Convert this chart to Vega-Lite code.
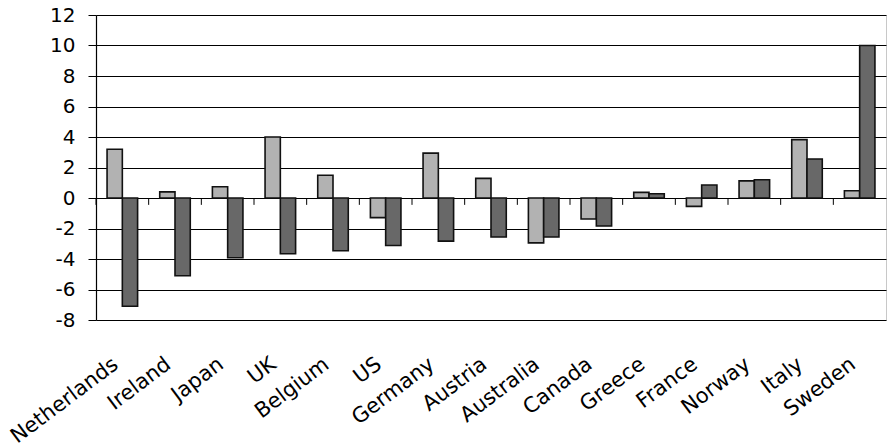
{
  "$schema": "https://vega.github.io/schema/vega-lite/v6.json",
  "width": 790,
  "height": 305,
  "autosize": "none",
  "padding": {"left": 96, "top": 15, "right": 1, "bottom": 128},
  "background": "white",
  "config": {"view": {"stroke": "#c8c8c8", "strokeWidth": 1}},
  "data": {"values": [
    {"country": "Netherlands", "series": "a", "value": 3.2},
    {"country": "Netherlands", "series": "b", "value": -7.1},
    {"country": "Ireland", "series": "a", "value": 0.4},
    {"country": "Ireland", "series": "b", "value": -5.1},
    {"country": "Japan", "series": "a", "value": 0.74},
    {"country": "Japan", "series": "b", "value": -3.92},
    {"country": "UK", "series": "a", "value": 4.0},
    {"country": "UK", "series": "b", "value": -3.66},
    {"country": "Belgium", "series": "a", "value": 1.49},
    {"country": "Belgium", "series": "b", "value": -3.46},
    {"country": "US", "series": "a", "value": -1.29},
    {"country": "US", "series": "b", "value": -3.11},
    {"country": "Germany", "series": "a", "value": 2.94},
    {"country": "Germany", "series": "b", "value": -2.83},
    {"country": "Austria", "series": "a", "value": 1.29},
    {"country": "Austria", "series": "b", "value": -2.56},
    {"country": "Australia", "series": "a", "value": -2.94},
    {"country": "Australia", "series": "b", "value": -2.56},
    {"country": "Canada", "series": "a", "value": -1.38},
    {"country": "Canada", "series": "b", "value": -1.84},
    {"country": "Greece", "series": "a", "value": 0.37},
    {"country": "Greece", "series": "b", "value": 0.28},
    {"country": "France", "series": "a", "value": -0.55},
    {"country": "France", "series": "b", "value": 0.85},
    {"country": "Norway", "series": "a", "value": 1.12},
    {"country": "Norway", "series": "b", "value": 1.2},
    {"country": "Italy", "series": "a", "value": 3.83},
    {"country": "Italy", "series": "b", "value": 2.56},
    {"country": "Sweden", "series": "a", "value": 0.48},
    {"country": "Sweden", "series": "b", "value": 10.0}
  ]},
  "layer": [
    {
      "mark": {"type": "bar", "stroke": "#111111", "strokeWidth": 1.6, "strokeOpacity": 1},
      "encoding": {
        "x": {
          "field": "country", "type": "nominal", "sort": null,
          "scale": {"paddingInner": 0.42, "paddingOuter": 0.21},
          "axis": {
            "title": null, "domain": false, "ticks": false, "grid": false,
            "labelAngle": -37, "labelFont": "DejaVu Sans", "labelFontSize": 21,
            "labelColor": "black", "labelPadding": 33, "labelOffset": -13,
            "labelOverlap": false, "labelLimit": 0
          }
        },
        "xOffset": {"field": "series", "sort": ["a", "b"]},
        "y": {
          "field": "value", "type": "quantitative",
          "scale": {"domain": [-8, 12], "nice": false, "zero": false},
          "axis": {
            "title": null, "values": [-8, -6, -4, -2, 0, 2, 4, 6, 8, 10, 12],
            "labelExpr": "datum.value < 0 ? '-' + abs(datum.value) : '' + datum.value",
            "labelOverlap": false,
            "grid": true, "gridColor": "black", "gridWidth": 1, "gridOpacity": 1,
            "domainColor": "black", "domainWidth": 1.2,
            "tickColor": "black", "tickSize": 8, "tickWidth": 1,
            "labelFont": "DejaVu Sans", "labelFontSize": 20, "labelColor": "black",
            "labelPadding": 13
          }
        },
        "fill": {
          "field": "series", "type": "nominal",
          "scale": {"domain": ["a", "b"], "range": ["#b2b2b2", "#686868"]},
          "legend": null
        }
      }
    },
    {
      "transform": [{"filter": "datum.series == 'a'"}],
      "mark": {"type": "rule", "color": "black", "strokeWidth": 1},
      "encoding": {
        "x": {
          "field": "country", "type": "nominal", "sort": null, "bandPosition": 0,
          "scale": {"paddingInner": 0, "paddingOuter": 0},
          "axis": null
        },
        "y": {
          "datum": 0,
          "axis": {
            "title": null, "values": [-8, -6, -4, -2, 0, 2, 4, 6, 8, 10, 12],
            "labelExpr": "datum.value < 0 ? '-' + abs(datum.value) : '' + datum.value",
            "labelOverlap": false,
            "grid": true, "gridColor": "black", "gridWidth": 1, "gridOpacity": 1,
            "domainColor": "black", "domainWidth": 1.2,
            "tickColor": "black", "tickSize": 8, "tickWidth": 1,
            "labelFont": "DejaVu Sans", "labelFontSize": 20, "labelColor": "black",
            "labelPadding": 13
          }
        },
        "y2": {"datum": -0.45}
      }
    }
  ],
  "resolve": {"scale": {"x": "independent"}, "axis": {"x": "independent"}}
}
